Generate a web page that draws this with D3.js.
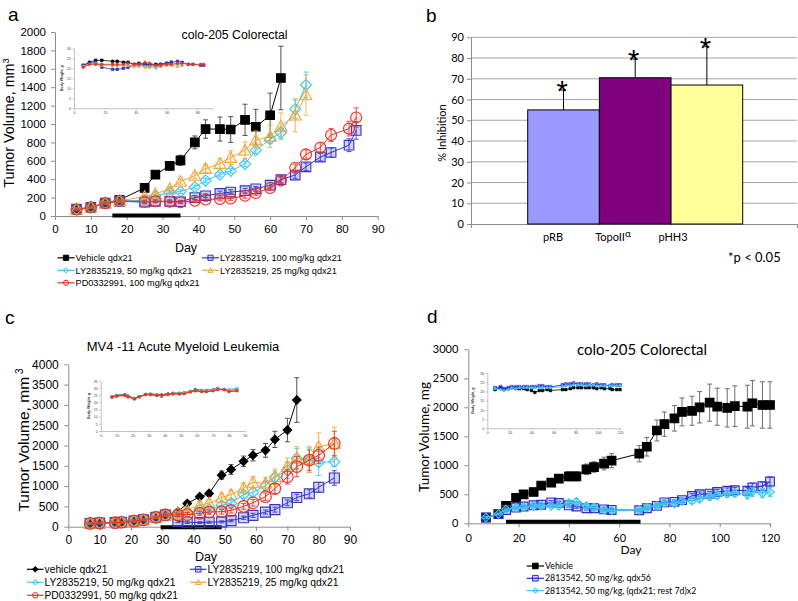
<!DOCTYPE html>
<html><head><meta charset="utf-8">
<script src="https://cdn.jsdelivr.net/npm/d3@7"></script>
<style>body{margin:0;background:#fff}svg{display:block}</style>
</head><body>
<svg id="fig" width="798" height="601"></svg>
<script>
// ---------------- DATA ----------------
// Panel a: colo-205 Colorectal
const aDaysAll = [6,10,14,18,25,28,32,35,39,42,46,49,53,56,60,63,67,70,74,77,82,84];
const aDays70  = [6,10,14,18,25,28,32,35,39,42,46,49,53,56,60,63,67,70];
const aDaysVeh = [6,10,14,18,25,28,32,35,39,42,46,49,53,56,60,63];
const aVehicle    = [70,90,140,175,305,450,545,605,800,945,945,940,1045,970,1095,1500];
const aVehicleErr = [15,15,20,20,20,35,45,55,70,100,130,140,170,190,240,345];
const aLY100    = [75,95,140,160,150,160,160,155,200,220,245,260,275,295,335,395,445,535,640,690,770,930];
const aLY100Err = [10,10,15,15,15,15,15,15,20,20,25,25,25,25,30,35,35,40,40,50,70,95];
const aLY50     = [75,95,140,165,170,215,255,265,315,385,450,490,565,715,835,905,1160,1425];
const aLY50Err  = [10,10,15,15,15,15,20,20,20,25,25,25,30,35,45,60,100,140];
const aLY25     = [75,95,140,165,210,240,295,375,440,515,570,635,715,825,865,975,1095,1315];
const aLY25Err  = [10,10,15,15,20,20,25,30,35,45,55,75,90,100,120,145,180,220];
const aPD       = [70,95,140,165,155,160,155,150,165,180,185,190,220,250,305,385,525,670,745,880,950,1070];
const aPDErr    = [10,10,15,15,15,15,15,15,15,20,20,20,25,25,25,30,40,50,50,70,80,105];
const aDosing   = [16,35];
// Panel a inset: body weight, g
const aBwVehicle = [21.5,23,24,24,23.5,23.5,23,23,22,22.5,22,22,22,22,22.5,23];
const aBwLY100   = [21.5,22.5,23,20.5,19.5,19.5,20,20.5,21.5,22,21.5,21,21.5,22,22.5,23,23.5,23,22,22,21.5,21.5];
const aBwLY50    = [21,22,22.5,22,21.5,21.5,21.5,21.5,21.5,21.5,21,21,20,21,21.5,22,22,21.5];
const aBwLY25    = [21,22,22,21.5,21.5,21.5,21.5,21.5,21,21,20.5,20.5,21,21,21.5,21.5,21,21.5];
const aBwPD      = [20.5,22,22,22,22,22,22,22.5,22,22,23,22.5,21.5,21.5,22,22,22.5,22.5,22,22,22,22];
const aLegend = ["Vehicle qdx21","LY2835219, 100 mg/kg qdx21","LY2835219, 50 mg/kg qdx21","LY2835219, 25 mg/kg qdx21","PD0332991, 100 mg/kg qdx21"];

// Panel b: % inhibition
const bCategories = ["pRB","TopoII","pHH3"];
const bValues = [55,70.5,67];
const bErrors = [9.6,9,18.5];
const bYTicks = [0,10,20,30,40,50,60,70,80,90];

// Panel c: MV4-11 AML
const cDaysAll = [7,10,15,17,21,24,28,31,35,38,42,45,49,52,56,59,63,66,70,73,77,80,85];
const cDaysVeh = [7,10,15,17,21,24,28,31,35,38,42,45,49,52,56,59,63,66,70,73];
const cVehicle    = [80,90,100,110,140,170,220,290,370,570,740,820,1270,1410,1610,1760,1880,2150,2380,3120];
const cVehicleErr = [15,15,15,15,20,20,30,40,50,60,60,70,100,120,130,140,170,200,290,550];
const cLY100    = [80,90,100,110,140,170,230,290,130,110,100,110,120,150,220,280,360,420,590,720,810,970,1200];
const cLY100Err = [15,15,15,15,20,20,30,40,30,30,25,25,25,30,40,50,50,60,70,80,100,120,180];
const cLY50     = [80,90,100,110,140,170,230,290,320,350,420,430,530,580,790,850,1010,1220,1390,1680,1640,1590,1600];
const cLY50Err  = [15,15,15,15,20,20,30,40,40,40,50,50,60,70,90,100,120,150,200,250,300,330,120];
const cLY25     = [80,90,100,110,140,170,230,290,330,420,530,580,720,790,950,1090,1070,1230,1490,1690,1650,1970,2050];
const cLY25Err  = [15,15,15,15,20,20,30,40,40,60,80,90,100,110,130,150,150,190,200,280,320,340,400];
const cPD       = [80,90,100,110,140,170,230,290,290,300,330,360,370,400,500,590,740,940,1230,1480,1640,1760,2050];
const cPDErr    = [15,15,15,15,20,20,30,40,40,50,50,50,60,60,70,80,90,120,180,250,250,200,300];
const cDosing   = [29.5,49];
const cBwVehicle = [24,25,25.5,24.5,23,24,25.5,26,25.5,25.5,26,26.5,26.5,27,27.5,29,28.5,28.5,29,30];
const cBwLY100   = [24,24.5,25,24,22.5,24,25.5,25.5,25,24.5,25.5,26,26,26.5,27.5,28.5,28,28,28.5,29.5,29,28.5,29];
const cBwLY50    = [24,25,25,24.5,23,24,25.5,26,25.5,25,26,26.5,26.5,27,28,28.5,28.5,28.5,29,30,29,29,30];
const cBwLY25    = [24,24.5,25,24,23,24,25.5,25.5,25,25,26,26,26.5,26.5,27.5,28,28,28,28.5,29.5,29,28,28.5];
const cBwPD      = [23.5,24.5,25,24,22.5,24,25.5,25.5,25,25,26,26,26,26,27.5,28,27.5,27.5,28,29,29,27.5,28];
const cLegend = ["vehicle qdx21","LY2835219, 100 mg/kg qdx21","LY2835219, 50 mg/kg qdx21","LY2835219, 25 mg/kg qdx21","PD0332991, 50 mg/kg qdx21"];

// Panel d: colo-205 Colorectal (2813542)
const dDays = [7,12,15,19,22,26,29,33,36,40,43,47,50,54,57,68,71,75,78,82,85,89,92,96,99,103,106,111,113,117,120];
const dVehicle    = [100,160,300,440,500,540,650,700,770,810,810,930,970,1030,1080,1200,1320,1600,1710,1810,1920,1940,2000,2080,2010,1990,2020,2010,2070,2040,2040];
const dVehicleErr = [20,20,30,40,40,50,60,60,70,80,80,90,90,110,120,140,160,180,210,220,240,250,270,320,320,330,350,370,390,400,400];
const dQdx56      = [100,160,230,270,290,310,320,360,350,310,290,260,260,240,230,225,260,300,360,370,400,470,500,510,540,560,570,560,620,640,720];
const dQdx56Err   = [15,15,20,20,20,25,25,30,30,30,30,30,30,25,25,25,25,30,30,30,35,40,40,40,45,50,50,60,70,70,80];
const dCycle      = [100,160,240,270,280,300,300,300,300,350,370,300,270,230,220,230,270,300,350,340,380,390,420,460,480,510,520,500,540,520,540];
const dCycleErr   = [15,15,20,20,20,25,25,30,30,50,60,40,30,30,25,25,30,30,30,30,40,50,50,60,60,60,60,80,80,80,80];
const dDosing     = [15,68.5];
const dBwVehicle = [21,22,21,21.5,22,21.5,21.5,21.5,21,20.5,19.5,20.5,20.5,21,20.5,21,21,21.5,22,22,22,22,22,22,21.5,22,21.5,21.5,21,21,21];
const dBwQdx56   = [22,22.5,21.5,22,22.5,22.5,22.5,22.5,22.5,22.5,22.5,23,23,22.5,22.5,23.5,24,24,24.5,24,24,24,24,23.5,24,23.5,23.5,23,23.5,23.5,23.5];
const dBwCycle   = [21.5,21,20.5,21,22,21.5,22,22,22,22,22,22,22,22,22,22.5,23,23,23.5,23.5,23.5,23,23.5,23.5,23,23,23,23,23,23,23];
const dLegend = ["Vehicle","2813542, 50 mg/kg, qdx56","2813542, 50 mg/kg, (qdx21; rest 7d)x2"];

// ---------------- DRAWING ----------------
const FA = "'Liberation Sans', Arial, sans-serif";
const FL = "Lato, 'Liberation Sans', sans-serif";
const COL = {black:"#000000", blue:"#3434c8", cyan:"#3cc8f0", orange:"#f0a83a", red:"#e6332a"};
const fmt = d3.format("d");
const svg = d3.select("#fig");
svg.append("rect").attr("width",798).attr("height",601).attr("fill","#fff");

function markerPath(shape, r){
  switch(shape){
    case "square": return `M${-r},${-r}H${r}V${r}H${-r}Z`;
    case "diamond": return `M0,${-r}L${r},0L0,${r}L${-r},0Z`;
    case "triangle": return `M0,${-r}L${r},${r*0.8}L${-r},${r*0.8}Z`;
    default: return `M${r},0A${r},${r} 0 1,1 ${-r},0A${r},${r} 0 1,1 ${r},0Z`;
  }
}

function drawSeries(g, x, y, s){
  const pts = s.days.map((d,i)=>({d, v:s.vals[i], e: s.errs ? s.errs[i] : 0}));
  const sg = g.append("g");
  if (s.errs){
    const eg = sg.append("g").attr("stroke", s.ecolor || s.color).attr("stroke-width", 1).attr("opacity", s.eop || 0.85);
    const ep = pts.filter(p=>p.e>0);
    eg.selectAll(".v").data(ep).join("line").attr("x1",p=>x(p.d)).attr("x2",p=>x(p.d)).attr("y1",p=>y(p.v-p.e)).attr("y2",p=>y(p.v+p.e));
    eg.selectAll(".t").data(ep).join("line").attr("x1",p=>x(p.d)-2.5).attr("x2",p=>x(p.d)+2.5).attr("y1",p=>y(p.v+p.e)).attr("y2",p=>y(p.v+p.e));
    eg.selectAll(".b").data(ep).join("line").attr("x1",p=>x(p.d)-2.5).attr("x2",p=>x(p.d)+2.5).attr("y1",p=>y(p.v-p.e)).attr("y2",p=>y(p.v-p.e));
  }
  sg.append("path").datum(pts).attr("d", d3.line().x(p=>x(p.d)).y(p=>y(p.v)))
    .attr("fill","none").attr("stroke", s.color).attr("stroke-width", s.lw || 1);
  sg.append("g").selectAll("path").data(pts).join("path")
    .attr("d", markerPath(s.shape, s.r))
    .attr("transform", p=>`translate(${x(p.d)},${y(p.v)})`)
    .attr("fill", s.fill).attr("fill-opacity", s.fop == null ? 1 : s.fop)
    .attr("stroke", s.color).attr("stroke-width", s.sw || 1.1);
}

function drawAxes(g, x, y, o){
  const xa = g.append("g").attr("transform", `translate(0,${y(0)})`)
    .call(d3.axisBottom(x).tickValues(o.xt).tickFormat(fmt).tickSizeInner(o.ts).tickSizeOuter(0).tickPadding(o.xpad));
  const ya = g.append("g").attr("transform", `translate(${x(0)},0)`)
    .call(d3.axisLeft(y).tickValues(o.yt).tickFormat(fmt).tickSizeInner(o.ts).tickSizeOuter(0).tickPadding(o.ypad));
  [xa,ya].forEach(a=>{
    a.select(".domain").attr("stroke", o.ac).attr("stroke-width", o.aw || 1);
    a.selectAll(".tick line").attr("stroke", o.ac).attr("stroke-width", o.aw || 1);
    a.selectAll(".tick text").attr("font-family", o.font).attr("font-size", o.fs).attr("fill", o.tc || "#000");
  });
}

function drawLegend(g, items, o){
  items.forEach((it,i)=>{
    const col = o.cols > 1 ? i % o.cols : 0;
    const row = o.cols > 1 ? Math.floor(i / o.cols) : i;
    const x0 = o.colX[col], yy = o.y0 + row*o.dy;
    g.append("line").attr("x1",x0).attr("x2",x0+o.lw).attr("y1",yy).attr("y2",yy).attr("stroke",it.color).attr("stroke-width",1.2);
    g.append("path").attr("d", markerPath(it.shape, o.mr)).attr("transform",`translate(${x0+o.lw/2},${yy})`)
      .attr("fill", it.fill).attr("fill-opacity", it.fop == null ? 1 : it.fop).attr("stroke", it.color).attr("stroke-width",1);
    g.append("text").attr("x", x0+o.lw+1).attr("y", yy).attr("dy","0.35em")
      .attr("font-family", o.font).attr("font-size", o.fs).text(it.label);
  });
}

function drawInset(g, x, y, o, series){
  drawAxes(g, x, y, {xt:o.xt, yt:o.yt, ts:1.5, xpad:1.5, ypad:1.5, ac:"#999", aw:0.6, font:FA, fs:3.6, tc:"#444"});
  g.append("text").attr("transform", `translate(${o.lx},${(y.range()[0]+y.range()[1])/2}) rotate(-90)`)
    .attr("text-anchor","middle").attr("font-family",FA).attr("font-size",3.6).attr("font-weight","bold").attr("fill","#333")
    .text("Body Weight, g");
  series.forEach(s=>drawSeries(g, x, y, s));
}

function panelLabel(t, x, yb){
  svg.append("text").attr("x",x).attr("y",yb).attr("font-family",FA).attr("font-size",19).text(t);
}

// ===== Panel a =====
(function(){
  const g = svg.append("g");
  const x = d3.scaleLinear().domain([0,90]).range([55,377.7]);
  const y = d3.scaleLinear().domain([0,2000]).range([216,32]);
  drawAxes(g, x, y, {xt:d3.range(0,91,10), yt:d3.range(0,2001,200), ts:4, xpad:4.5, ypad:5, ac:"#8c8c8c", font:FA, fs:11.5});
  const ix = d3.scaleLinear().domain([0,90]).range([74,213]);
  const iy = d3.scaleLinear().domain([0,30]).range([108.3,48.3]);
  drawInset(g.append("g"), ix, iy, {xt:[0,20,40,60,80], yt:[0,5,10,15,20,25,30], lx:63}, [
    {days:aDaysVeh, vals:aBwVehicle, color:COL.black, shape:"square", r:1.3, fill:COL.black, lw:0.8, sw:0.6},
    {days:aDaysAll, vals:aBwLY100, color:COL.blue, shape:"square", r:1.3, fill:COL.blue, lw:0.8, sw:0.6},
    {days:aDays70, vals:aBwLY50, color:COL.cyan, shape:"diamond", r:1.4, fill:COL.cyan, lw:0.8, sw:0.6},
    {days:aDays70, vals:aBwLY25, color:COL.orange, shape:"triangle", r:1.4, fill:COL.orange, lw:0.8, sw:0.6},
    {days:aDaysAll, vals:aBwPD, color:COL.red, shape:"circle", r:1.3, fill:COL.red, lw:0.8, sw:0.6}
  ]);
  g.append("line").attr("x1",x(aDosing[0])).attr("x2",x(aDosing[1])).attr("y1",y(0)-0.5).attr("y2",y(0)-0.5)
    .attr("stroke","#000").attr("stroke-width",4);
  const series = [
    {days:aDaysVeh, vals:aVehicle, errs:aVehicleErr, color:COL.black, ecolor:"#333", shape:"square", r:4.3, fill:"#000"},
    {days:aDaysAll, vals:aLY100, errs:aLY100Err, color:COL.blue, shape:"square", r:4.8, fill:COL.blue, fop:0.22},
    {days:aDays70, vals:aLY50, errs:aLY50Err, color:COL.cyan, shape:"diamond", r:5.6, fill:COL.cyan, fop:0.12},
    {days:aDays70, vals:aLY25, errs:aLY25Err, color:COL.orange, shape:"triangle", r:6, fill:COL.orange, fop:0.12},
    {days:aDaysAll, vals:aPD, errs:aPDErr, color:COL.red, shape:"circle", r:5.5, fill:COL.red, fop:0.1}
  ];
  series.forEach(s=>drawSeries(g, x, y, s));
  g.append("text").attr("x",234.5).attr("y",39).attr("text-anchor","middle").attr("font-family",FA).attr("font-size",12.3).text("colo-205  Colorectal");
  g.append("text").attr("x",186).attr("y",252).attr("text-anchor","middle").attr("font-family",FA).attr("font-size",12.5).text("Day");
  const yl = g.append("text").attr("transform","translate(13.5,123) rotate(-90)").attr("text-anchor","middle").attr("font-family",FA).attr("font-size",14.3);
  yl.append("tspan").text("Tumor Volume, mm");
  yl.append("tspan").attr("dy",-5).attr("font-size",9.5).text("3");
  drawLegend(g, series.map((s,i)=>({label:aLegend[i], color:s.color, shape:s.shape, fill:s.fill, fop:s.fop})),
    {cols:2, colX:[57.5,202], y0:257.8, dy:12.5, lw:17, mr:2.6, font:FA, fs:9.2});
})();
panelLabel("a", 8, 21);

// ===== Panel b =====
(function(){
  const g = svg.append("g");
  const y = d3.scaleLinear().domain([0,90]).range([224,37.3]);
  const xAxisSpan = d3.scaleLinear().domain([0,1]).range([471,797]);
  const xb = d3.scaleBand().domain(bCategories).range([527.7,742.7]).padding(0);
  const xl = d3.scalePoint().domain(bCategories).range([553,673]);
  const fills = ["#9999ff","#800080","#ffff99"];
  g.append("g").selectAll("line").data(bYTicks.filter(t=>t>0)).join("line")
    .attr("x1",xAxisSpan(0)).attr("x2",xAxisSpan(1)).attr("y1",d=>y(d)).attr("y2",d=>y(d))
    .attr("stroke","#a6a6a6").attr("stroke-width",1);
  const ya = g.append("g").attr("transform",`translate(${xAxisSpan(0)},0)`)
    .call(d3.axisLeft(y).tickValues(bYTicks).tickSizeInner(4).tickSizeOuter(0).tickPadding(3));
  ya.select(".domain").attr("stroke","#8c8c8c");
  ya.selectAll(".tick line").attr("stroke","#8c8c8c");
  ya.selectAll(".tick text").attr("font-family",FL).attr("font-size",11);
  const xa = g.append("g").attr("transform",`translate(0,${y(0)})`)
    .call(d3.axisBottom(xAxisSpan).tickValues([0,1]).tickFormat("").tickSizeInner(4).tickSizeOuter(0));
  xa.select(".domain").attr("stroke","#8c8c8c");
  xa.selectAll(".tick line").attr("stroke","#8c8c8c");
  g.append("g").selectAll("rect").data(bCategories).join("rect")
    .attr("x",d=>xb(d)).attr("width",xb.bandwidth())
    .attr("y",(d,i)=>y(bValues[i])).attr("height",(d,i)=>y(0)-y(bValues[i]))
    .attr("fill",(d,i)=>fills[i]).attr("stroke","#000").attr("stroke-width",1);
  const eg = g.append("g").attr("stroke","#000").attr("stroke-width",1);
  bCategories.forEach((c,i)=>{
    const cx = xb(c)+xb.bandwidth()/2;
    eg.append("line").attr("x1",cx).attr("x2",cx).attr("y1",y(bValues[i])).attr("y2",y(bValues[i]+bErrors[i]));
    eg.append("line").attr("x1",cx-2.5).attr("x2",cx+2.5).attr("y1",y(bValues[i]+bErrors[i])).attr("y2",y(bValues[i]+bErrors[i]));
    g.append("text").attr("x",cx-1.5).attr("y",y(bValues[i]+bErrors[i])+11).attr("text-anchor","middle")
      .attr("font-family",FA).attr("font-size",29).text("*");
  });
  bCategories.forEach((c,i)=>{
    const t = g.append("text").attr("x",xl(c)).attr("y",241).attr("text-anchor","middle").attr("font-family",FL).attr("font-size",11);
    t.append("tspan").text(c);
    if (c === "TopoII") t.append("tspan").attr("dy",-4).attr("font-size",10).text("α");
  });
  g.append("text").attr("transform","translate(446,133) rotate(-90)").attr("text-anchor","middle").attr("font-family",FL).attr("font-size",11).text("% Inhibition");
  g.append("text").attr("x",728).attr("y",262).attr("font-family",FL).attr("font-size",13).text("*p < 0.05");
})();
panelLabel("b", 426, 22);

// ===== Panel c =====
(function(){
  const g = svg.append("g");
  const x = d3.scaleLinear().domain([0,90]).range([68.3,350]);
  const y = d3.scaleLinear().domain([0,4000]).range([526.7,364.3]);
  drawAxes(g, x, y, {xt:d3.range(0,91,10), yt:d3.range(0,4001,500), ts:4, xpad:4.5, ypad:5.5, ac:"#8c8c8c", font:FA, fs:12});
  const ix = d3.scaleLinear().domain([0,90]).range([100.7,245]);
  const iy = d3.scaleLinear().domain([0,35]).range([431,381]);
  drawInset(g.append("g"), ix, iy, {xt:d3.range(0,91,10), yt:d3.range(0,36,5), lx:90}, [
    {days:cDaysVeh, vals:cBwVehicle, color:COL.black, shape:"diamond", r:1.4, fill:COL.black, lw:0.8, sw:0.6},
    {days:cDaysAll, vals:cBwLY100, color:COL.blue, shape:"square", r:1.2, fill:COL.blue, lw:0.8, sw:0.6},
    {days:cDaysAll, vals:cBwLY50, color:COL.cyan, shape:"diamond", r:1.4, fill:COL.cyan, lw:0.8, sw:0.6},
    {days:cDaysAll, vals:cBwLY25, color:COL.orange, shape:"triangle", r:1.4, fill:COL.orange, lw:0.8, sw:0.6},
    {days:cDaysAll, vals:cBwPD, color:COL.red, shape:"circle", r:1.2, fill:COL.red, lw:1.2, sw:0.6}
  ]);
  g.append("line").attr("x1",x(cDosing[0])).attr("x2",x(cDosing[1])).attr("y1",y(0)+0.5).attr("y2",y(0)+0.5)
    .attr("stroke","#000").attr("stroke-width",4);
  const series = [
    {days:cDaysVeh, vals:cVehicle, errs:cVehicleErr, color:COL.black, ecolor:"#333", shape:"diamond", r:4.3, fill:"#000"},
    {days:cDaysAll, vals:cLY100, errs:cLY100Err, color:COL.blue, shape:"square", r:5, fill:COL.blue, fop:0.22},
    {days:cDaysAll, vals:cLY50, errs:cLY50Err, color:COL.cyan, shape:"diamond", r:5.6, fill:COL.cyan, fop:0.12},
    {days:cDaysAll, vals:cLY25, errs:cLY25Err, color:COL.orange, shape:"triangle", r:6, fill:COL.orange, fop:0.12},
    {days:cDaysAll, vals:cPD, errs:cPDErr, color:COL.red, shape:"circle", r:5.8, fill:COL.red, fop:0.1}
  ];
  series.forEach(s=>drawSeries(g, x, y, s));
  g.append("text").attr("x",183).attr("y",351).attr("text-anchor","middle").attr("font-family",FA).attr("font-size",13).text("MV4 -11 Acute Myeloid Leukemia");
  g.append("text").attr("x",206).attr("y",561).attr("text-anchor","middle").attr("font-family",FA).attr("font-size",12.5).text("Day");
  const yl = g.append("text").attr("transform","translate(28.5,440) rotate(-90)").attr("text-anchor","middle").attr("font-family",FA).attr("font-size",15.5);
  yl.append("tspan").text("Tumor Volume, mm");
  yl.append("tspan").attr("dx",3).attr("dy",-6).attr("font-size",10).text("3");
  drawLegend(g, series.map((s,i)=>({label:cLegend[i], color:s.color, shape:s.shape, fill:s.fill, fop:s.fop})),
    {cols:2, colX:[27,190], y0:569.3, dy:13, lw:16.5, mr:2.8, font:FA, fs:10.3});
})();
panelLabel("c", 5, 324);

// ===== Panel d =====
(function(){
  const g = svg.append("g");
  const x = d3.scaleLinear().domain([0,120]).range([468.3,770]);
  const y = d3.scaleLinear().domain([0,3000]).range([523.3,349.3]);
  drawAxes(g, x, y, {xt:d3.range(0,121,20), yt:d3.range(0,3001,500), ts:4, xpad:7, ypad:6, ac:"#8c8c8c", font:FL, fs:11});
  const ix = d3.scaleLinear().domain([0,120]).range([487.3,620]);
  const iy = d3.scaleLinear().domain([0,30]).range([428.3,373]);
  drawInset(g.append("g"), ix, iy, {xt:d3.range(0,121,20), yt:d3.range(0,31,5), lx:474}, [
    {days:dDays, vals:dBwVehicle, color:COL.black, shape:"square", r:1.3, fill:COL.black, lw:0.8, sw:0.6},
    {days:dDays, vals:dBwQdx56, color:"#2c2cd4", shape:"square", r:1.5, fill:"#2c2cd4", fop:0.5, lw:0.9, sw:0.6},
    {days:dDays, vals:dBwCycle, color:COL.cyan, shape:"diamond", r:1.5, fill:COL.cyan, lw:0.9, sw:0.6}
  ]);
  g.append("line").attr("x1",x(dDosing[0])).attr("x2",x(dDosing[1])).attr("y1",y(0)-1.5).attr("y2",y(0)-1.5)
    .attr("stroke","#000").attr("stroke-width",4);
  const series = [
    {days:dDays, vals:dVehicle, errs:dVehicleErr, color:COL.black, ecolor:"#555", shape:"square", r:4.3, fill:"#000"},
    {days:dDays, vals:dQdx56, errs:dQdx56Err, color:"#2c2cd4", shape:"square", r:4.4, fill:"#2c2cd4", fop:0.2, lw:1.2},
    {days:dDays, vals:dCycle, errs:dCycleErr, color:COL.cyan, shape:"diamond", r:4.3, fill:COL.cyan, fop:0.35, lw:1.2}
  ];
  series.forEach(s=>drawSeries(g, x, y, s));
  g.append("text").attr("x",642).attr("y",355).attr("text-anchor","middle").attr("font-family",FL).attr("font-size",15).text("colo-205 Colorectal");
  g.append("text").attr("x",631).attr("y",554).attr("text-anchor","middle").attr("font-family",FL).attr("font-size",12).text("Day");
  g.append("text").attr("transform","translate(429,437) rotate(-90)").attr("text-anchor","middle").attr("font-family",FL).attr("font-size",13.5).text("Tumor Volume, mg");
  drawLegend(g, series.map((s,i)=>({label:dLegend[i], color:s.color, shape:s.shape, fill:s.fill, fop:s.fop})),
    {cols:1, colX:[526.7], y0:566, dy:12.3, lw:17.3, mr:2.8, font:FL, fs:8.8});
})();
panelLabel("d", 427, 323);
</script>
</body></html>
